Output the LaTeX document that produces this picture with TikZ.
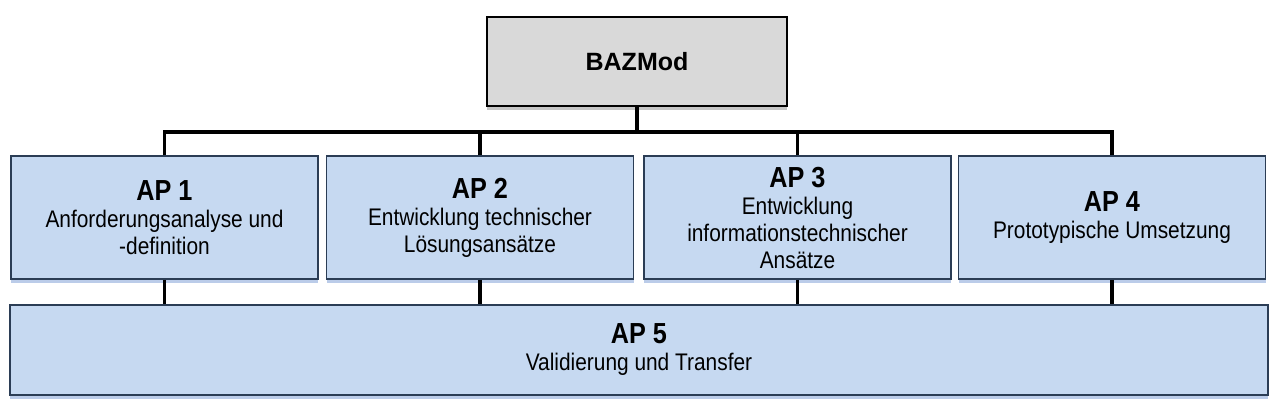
\documentclass[tikz,border=0pt]{standalone}
\usepackage{fontspec}
\setmainfont{Liberation Sans}
\newfontfamily\apfont[FakeStretch=0.87]{Liberation Sans}
\usetikzlibrary{shadows}
\definecolor{apblue}{HTML}{C6D9F1}
\definecolor{apborder}{HTML}{2B3D55}
\definecolor{bazgray}{HTML}{D9D9D9}
\definecolor{shadeblue}{HTML}{8EAADB}
\newcommand{\aptitle}[1]{{\fontsize{29}{32}\selectfont\bfseries #1}}

\begin{document}
\begin{tikzpicture}[x=1pt,y=-1pt,
  apbox/.style={draw=apborder,line width=1.5pt,fill=apblue,minimum width=307pt,minimum height=123pt,align=center,inner sep=0pt,
    font=\apfont\fontsize{24}{27}\selectfont,drop shadow={shadow xshift=0pt,shadow yshift=-4pt,fill=shadeblue,opacity=0.6}},
  conn/.style={line width=3.5pt}]
\useasboundingbox (0,0) rectangle (1280,418);
\node[draw=black,line width=1.5pt,fill=bazgray,minimum width=300pt,minimum height=89pt,inner sep=0pt,
  font=\fontsize{25}{28}\selectfont\bfseries,drop shadow={shadow xshift=0pt,shadow yshift=-4pt,fill=black!45,opacity=0.5}] (baz) at (637,61.5) {BAZMod};
\node[apbox] (ap1) at (164.5,217.5) {\aptitle{AP 1}\\Anforderungsanalyse und\\-definition};
\node[apbox] (ap2) at (480,217.5) {\aptitle{AP 2}\\Entwicklung technischer\\Lösungsansätze};
\node[apbox] (ap3) at (797.5,217.5) {\aptitle{AP 3}\\Entwicklung\\informationstechnischer\\Ansätze};
\node[apbox] (ap4) at (1112,217.5) {\aptitle{AP 4}\\Prototypische Umsetzung};
\node[apbox,minimum width=1258pt,minimum height=90pt] (ap5) at (639,350) {\aptitle{AP 5}\\Validierung und Transfer};
\coordinate (bus) at (637,132);
\draw[conn] (baz.south) -- (baz.south |- bus);
\draw[conn] (ap1.north) -- (ap1.north |- bus) -- (ap4.north |- bus) -- (ap4.north);
\draw[conn] (ap2.north) -- (ap2.north |- bus);
\draw[conn] (ap3.north) -- (ap3.north |- bus);
\foreach \n in {ap1,ap2,ap3,ap4}
  \draw[conn] (\n.south) -- (\n.south |- ap5.north);
\end{tikzpicture}
\end{document}
